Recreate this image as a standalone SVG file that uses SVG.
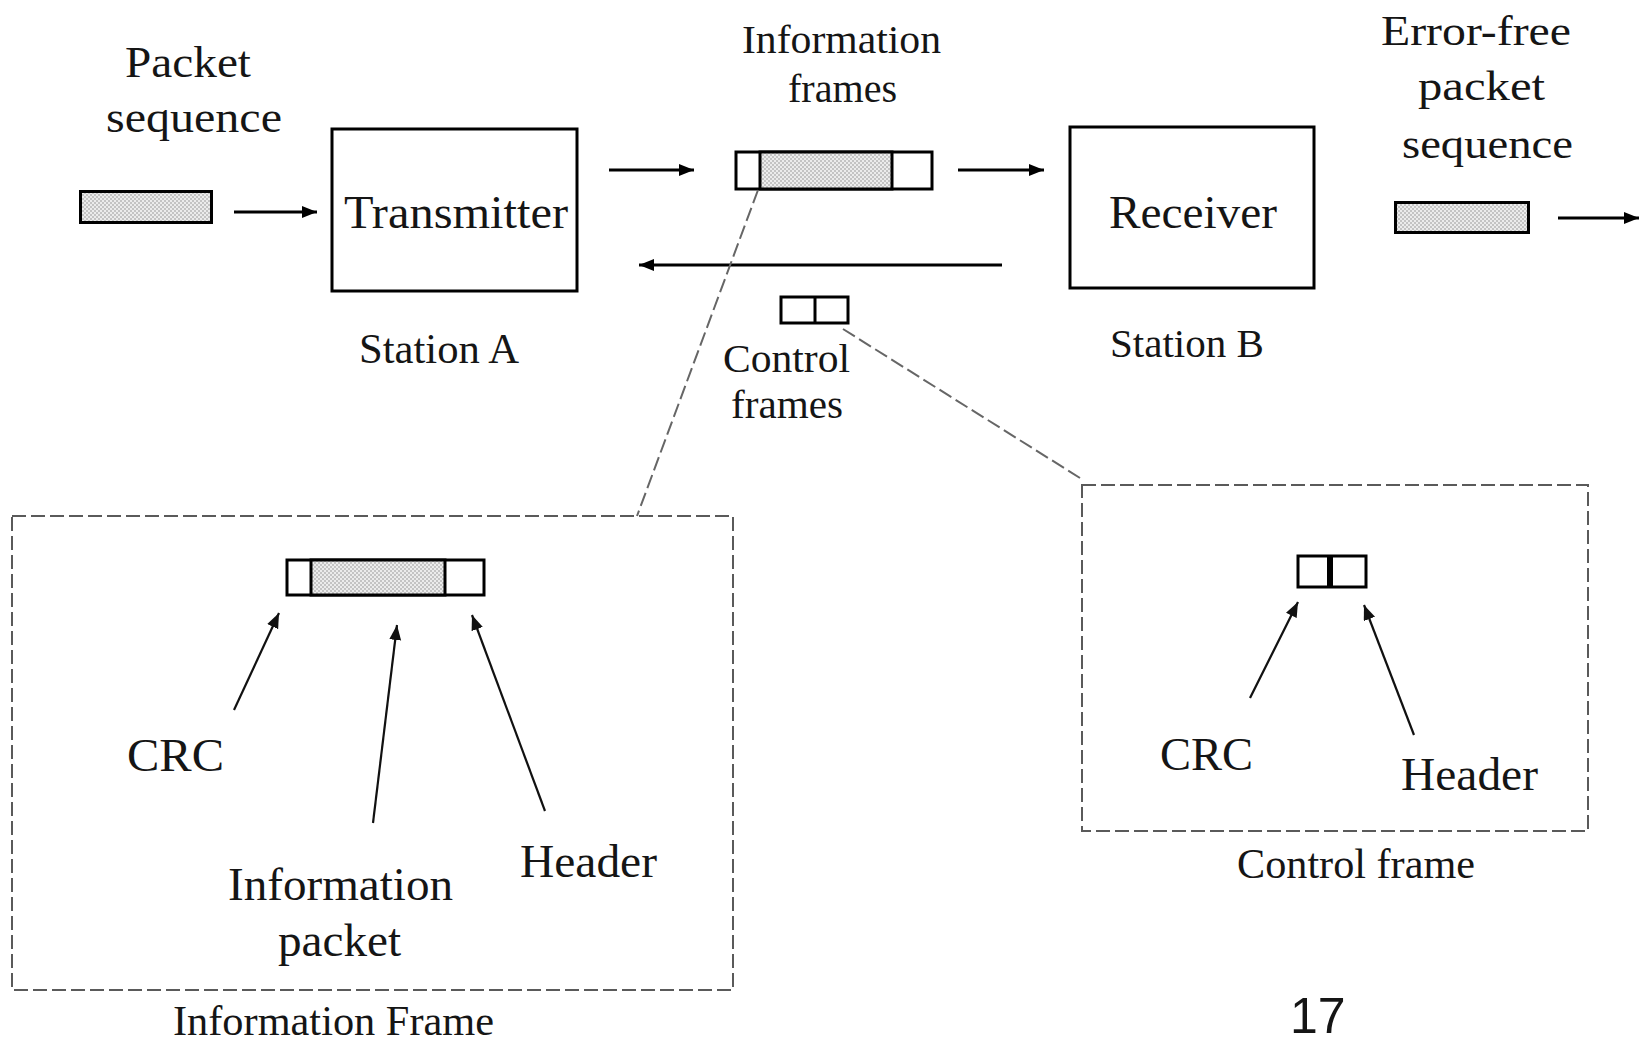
<svg xmlns="http://www.w3.org/2000/svg" width="1640" height="1045" viewBox="0 0 1640 1045">
<defs>
<pattern id="dots" width="4" height="4" patternUnits="userSpaceOnUse">
<rect width="4" height="4" fill="#ececec"/>
<rect width="2" height="2" fill="#c4c4c4"/>
<rect x="2" y="2" width="2" height="2" fill="#c4c4c4"/>
</pattern>
<marker id="ah" markerUnits="userSpaceOnUse" markerWidth="18" markerHeight="14" refX="15" refY="6" orient="auto">
<path d="M0,0 L15,6 L0,12 Z" fill="#000"/>
</marker>
<marker id="ah2" markerUnits="userSpaceOnUse" markerWidth="18" markerHeight="14" refX="15" refY="6" orient="auto">
<path d="M0,0 L15,6 L0,12 Z" fill="#111"/>
</marker>
</defs>
<style>
text{font-family:"Liberation Serif","Times New Roman",serif;fill:#151515}
.box{fill:#fff;stroke:#000;stroke-width:3}
.frm{fill:#fff;stroke:#000;stroke-width:3}
.shade{fill:url(#dots);stroke:#000;stroke-width:3}
.dbox{fill:none;stroke:#5a5a5a;stroke-width:2;stroke-dasharray:14 5}
.dline{fill:none;stroke:#666;stroke-width:2;stroke-dasharray:14 5}
.arr{stroke:#000;stroke-width:3;fill:none;marker-end:url(#ah)}
.arr2{stroke:#111;stroke-width:2.2;fill:none;marker-end:url(#ah2)}
</style>
<rect width="1640" height="1045" fill="#fff"/>

<g id="packet-sequence">
<text x="125" y="77" font-size="44" textLength="126" lengthAdjust="spacingAndGlyphs">Packet</text>
<text x="106" y="132" font-size="44" textLength="176" lengthAdjust="spacingAndGlyphs">sequence</text>
<rect class="shade" x="80.5" y="191.5" width="131" height="31"/>
</g>

<g id="transmitter">
<rect class="box" x="332" y="129" width="245" height="162"/>
<text x="344" y="228" font-size="47" textLength="224" lengthAdjust="spacingAndGlyphs">Transmitter</text>
<text x="359" y="363" font-size="42" textLength="160" lengthAdjust="spacingAndGlyphs">Station A</text>
</g>

<g id="information-frames">
<text x="742" y="53" font-size="40" textLength="199" lengthAdjust="spacingAndGlyphs">Information</text>
<text x="788" y="102" font-size="40" textLength="109" lengthAdjust="spacingAndGlyphs">frames</text>
<rect class="frm" x="736" y="152" width="196" height="37"/>
<rect class="shade" x="760" y="152" width="132" height="37"/>
</g>

<g id="control-frames">
<rect class="frm" x="781" y="297" width="67" height="26"/>
<line x1="815" y1="297" x2="815" y2="323" stroke="#000" stroke-width="3"/>
<text x="723" y="372" font-size="41" textLength="127" lengthAdjust="spacingAndGlyphs">Control</text>
<text x="731" y="418" font-size="41" textLength="112" lengthAdjust="spacingAndGlyphs">frames</text>
</g>

<g id="receiver">
<rect class="box" x="1070" y="127" width="244" height="161"/>
<text x="1109" y="228" font-size="47" textLength="168" lengthAdjust="spacingAndGlyphs">Receiver</text>
<text x="1110" y="357" font-size="41" textLength="154" lengthAdjust="spacingAndGlyphs">Station B</text>
</g>

<g id="error-free-sequence">
<text x="1381" y="45" font-size="42" textLength="190" lengthAdjust="spacingAndGlyphs">Error-free</text>
<text x="1418" y="100" font-size="42" textLength="127" lengthAdjust="spacingAndGlyphs">packet</text>
<text x="1402" y="158" font-size="42" textLength="171" lengthAdjust="spacingAndGlyphs">sequence</text>
<rect class="shade" x="1395.5" y="202.5" width="133" height="30"/>
</g>

<g id="information-frame-detail">
<rect class="dbox" x="12" y="516" width="721" height="474"/>
<rect class="frm" x="287" y="560" width="197" height="35"/>
<rect class="shade" x="311" y="560" width="134" height="35"/>
<text x="127" y="771" font-size="47" textLength="97" lengthAdjust="spacingAndGlyphs">CRC</text>
<text x="228" y="900" font-size="47" textLength="225" lengthAdjust="spacingAndGlyphs">Information</text>
<text x="278" y="956" font-size="47" textLength="123" lengthAdjust="spacingAndGlyphs">packet</text>
<text x="520" y="877" font-size="47" textLength="137" lengthAdjust="spacingAndGlyphs">Header</text>
<text x="173" y="1035" font-size="42" textLength="321" lengthAdjust="spacingAndGlyphs">Information Frame</text>
</g>

<g id="control-frame-detail">
<rect class="dbox" x="1082" y="485" width="506" height="346"/>
<rect class="frm" x="1298" y="556" width="68" height="31"/>
<line x1="1330" y1="556" x2="1330" y2="587" stroke="#000" stroke-width="6"/>
<text x="1160" y="770" font-size="47" textLength="93" lengthAdjust="spacingAndGlyphs">CRC</text>
<text x="1401" y="790" font-size="47" textLength="137" lengthAdjust="spacingAndGlyphs">Header</text>
<text x="1237" y="878" font-size="42" textLength="238" lengthAdjust="spacingAndGlyphs">Control frame</text>
</g>

<g id="page-number">
<text x="1290" y="1033" font-size="50" style="font-family:'Liberation Sans',Arial,sans-serif">17</text>
</g>

<g id="connectors">
<line class="arr" x1="234" y1="212" x2="317" y2="212"/>
<line class="arr" x1="609" y1="170" x2="694" y2="170"/>
<line class="arr" x1="958" y1="170" x2="1044" y2="170"/>
<line class="arr" x1="1002" y1="265" x2="639" y2="265"/>
<line class="arr" x1="1558" y1="218" x2="1639" y2="218"/>
<line class="dline" x1="758" y1="190" x2="637" y2="516"/>
<line class="dline" x1="843" y1="329" x2="1080" y2="478"/>
<line class="arr2" x1="234" y1="710" x2="279" y2="613"/>
<line class="arr2" x1="373" y1="823" x2="397" y2="625"/>
<line class="arr2" x1="545" y1="811" x2="472" y2="615"/>
<line class="arr2" x1="1250" y1="698" x2="1298" y2="602"/>
<line class="arr2" x1="1414" y1="735" x2="1364" y2="605"/>
</g>
</svg>
